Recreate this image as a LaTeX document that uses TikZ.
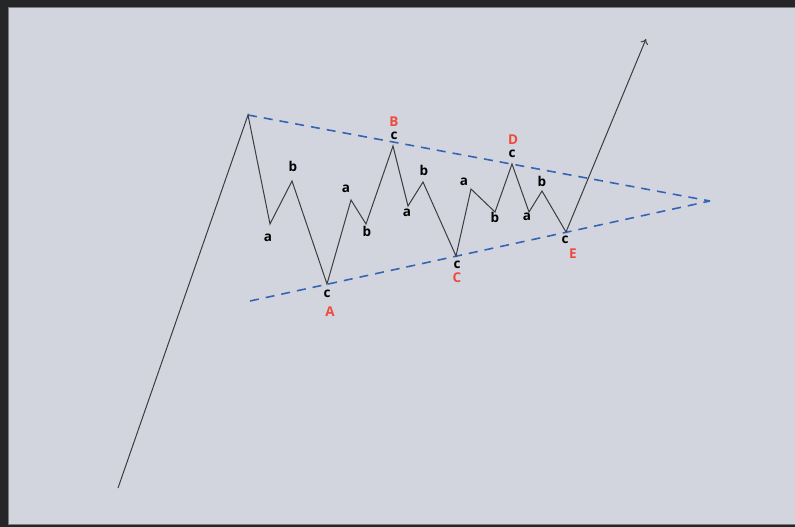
\documentclass[tikz,border=0pt]{standalone}
\usepackage{fontspec}
\setmainfont{Open Sans}
\usetikzlibrary{arrows.meta}
\definecolor{bgdark}{HTML}{262628}
\definecolor{bglight}{HTML}{D2D5DE}
\definecolor{edgegray}{HTML}{7A7B80}
\definecolor{wavegray}{HTML}{3C3C40}
\definecolor{dashblue}{HTML}{3464B4}
\definecolor{labred}{HTML}{EE4B3D}
\tikzset{
  wave/.style={draw=wavegray, line width=1pt, line join=miter},
  trend/.style={draw=dashblue, line width=1.6pt, dash pattern=on 9pt off 7pt},
  sub/.style={font=\bfseries\fontsize{13.5}{13.5}\selectfont, text=black, inner sep=0pt, text height=7pt, text depth=0pt},
  big/.style={font=\bfseries\fontsize{13.5}{13.5}\selectfont, text=labred, inner sep=0pt},
}
\begin{document}
\begin{tikzpicture}[x=1pt,y=-1pt]
\useasboundingbox (0,0) rectangle (795,527);
\fill[bgdark] (0,0) rectangle (795,527);
\fill[bglight, draw=edgegray, line width=0.8pt] (8,7) rectangle (796,524);
% wave points
\coordinate (s0) at (118,488);
\coordinate (p0) at (248,115);
\coordinate (a1) at (270,224);
\coordinate (b1) at (292,181);
\coordinate (cA) at (327,284);
\coordinate (a2) at (351,200);
\coordinate (b2) at (366,224);
\coordinate (cB) at (393,146);
\coordinate (a3) at (408,206);
\coordinate (b3) at (423,182);
\coordinate (cC) at (456,256);
\coordinate (a4) at (471,189);
\coordinate (b4) at (495,212);
\coordinate (cD) at (512,164);
\coordinate (a5) at (529,212);
\coordinate (b5) at (542,191);
\coordinate (cE) at (566,232);
\coordinate (endp) at (646,39);
\coordinate (apex) at (710,201);
\coordinate (lowstart) at (250,301);
% trend lines
\draw[trend] (p0) -- (apex);
\draw[trend] (lowstart) -- (apex);
% wave
\draw[wave] (s0) -- (p0) -- (a1) -- (b1) -- (cA) -- (a2) -- (b2) -- (cB) -- (a3) -- (b3) -- (cC) -- (a4) -- (b4) -- (cD) -- (a5) -- (b5) -- (cE);
\draw[wave, -{To[length=5pt,width=8pt]}] (cE) -- (endp);
% labels
\node[sub] (la1) at (268,238) {a};
\node[sub] (lb1) at (293,168) {b};
\node[sub] (lcA) at (327,294) {c};
\node[big] (lA) at (330,312) {A};
\node[sub] (la2) at (346,189) {a};
\node[sub] (lb2) at (367,233) {b};
\node[sub] (lcB) at (394,136) {c};
\node[big] (lB) at (394,122) {B};
\node[sub] (la3) at (407,213) {a};
\node[sub] (lb3) at (424,172) {b};
\node[sub] (lcC) at (457,265) {c};
\node[big] (lC) at (457,278) {C};
\node[sub] (la4) at (464,182) {a};
\node[sub] (lb4) at (495,219) {b};
\node[sub] (lcD) at (512,154) {c};
\node[big] (lD) at (513,140) {D};
\node[sub] (la5) at (527,217) {a};
\node[sub] (lb5) at (542,183) {b};
\node[sub] (lcE) at (565,240) {c};
\node[big] (lE) at (573,254) {E};
\end{tikzpicture}
\end{document}
